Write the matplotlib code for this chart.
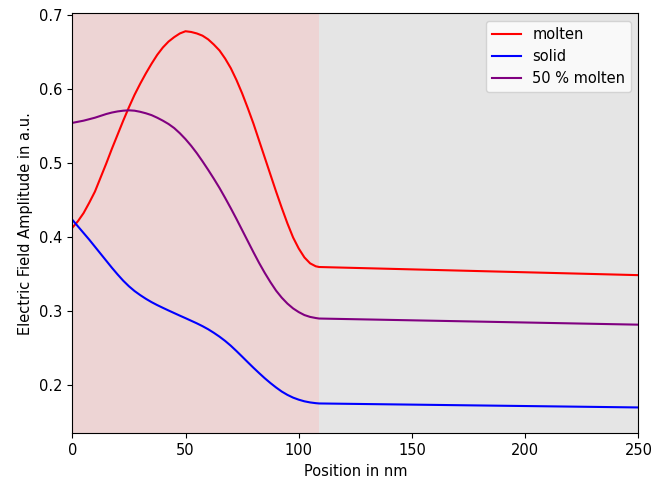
import matplotlib.pyplot as plt

# positions in nm (dense inside the layer, straight tail afterwards)
position = [0, 2.5, 5, 7.5, 10, 12.5, 15, 17.5, 20, 22.5, 25, 27.5, 30,
            32.5, 35, 37.5, 40, 42.5, 45, 47.5, 50, 52.5, 55, 57.5, 60,
            62.5, 65, 67.5, 70, 72.5, 75, 77.5, 80, 82.5, 85, 87.5, 90,
            92.5, 95, 97.5, 100, 102.5, 105, 107.5, 109, 250]

molten = [0.412, 0.421, 0.432, 0.446, 0.461, 0.480, 0.499, 0.519, 0.538,
          0.557, 0.575, 0.592, 0.607, 0.621, 0.634, 0.646, 0.656, 0.664,
          0.670, 0.675, 0.678, 0.677, 0.675, 0.672, 0.667, 0.660, 0.652,
          0.641, 0.628, 0.612, 0.594, 0.574, 0.553, 0.530, 0.507, 0.484,
          0.461, 0.439, 0.418, 0.399, 0.384, 0.372, 0.364, 0.360, 0.359,
          0.348]

solid = [0.423, 0.414, 0.405, 0.396, 0.3865, 0.377, 0.3675, 0.358, 0.349,
         0.3405, 0.333, 0.3265, 0.321, 0.316, 0.3115, 0.3075, 0.3038,
         0.3002, 0.2967, 0.2932, 0.2898, 0.2863, 0.2828, 0.279, 0.2748,
         0.270, 0.2648, 0.259, 0.2525, 0.2453, 0.2378, 0.2302, 0.2227,
         0.2155, 0.2085, 0.202, 0.196, 0.1905, 0.186, 0.1823, 0.1795,
         0.1773, 0.1758, 0.1748, 0.1744, 0.169]

half_molten = [0.554, 0.5555, 0.557, 0.559, 0.561, 0.5635, 0.566, 0.568,
               0.5695, 0.5705, 0.571, 0.5705, 0.569, 0.567, 0.5645, 0.561,
               0.557, 0.5525, 0.547, 0.540, 0.532, 0.523, 0.513, 0.502,
               0.4905, 0.4785, 0.466, 0.4525, 0.4385, 0.424, 0.409, 0.394,
               0.379, 0.3645, 0.351, 0.3385, 0.327, 0.3175, 0.3095, 0.303,
               0.298, 0.294, 0.2915, 0.290, 0.2893, 0.281]

layer_edge = 109
x_max = 250

plt.rcParams["font.size"] = 10.5

fig, ax = plt.subplots(figsize=(6.63, 4.82), dpi=100)
fig.subplots_adjust(left=0.109, right=0.963, top=0.972, bottom=0.101)

ax.axvspan(0, layer_edge, color="brown", alpha=0.2, lw=0)
ax.axvspan(layer_edge, x_max, color="grey", alpha=0.2, lw=0)

ax.plot(position, molten, color="red", label="molten")
ax.plot(position, solid, color="blue", label="solid")
ax.plot(position, half_molten, color="purple", label="50 % molten")

ax.set_xlim(0, x_max)
ax.set_ylim(0.134, 0.702)
ax.set_xlabel("Position in nm")
ax.set_ylabel("Electric Field Amplitude in a.u.")
ax.legend(loc="upper right")

fig.savefig("out.png")
